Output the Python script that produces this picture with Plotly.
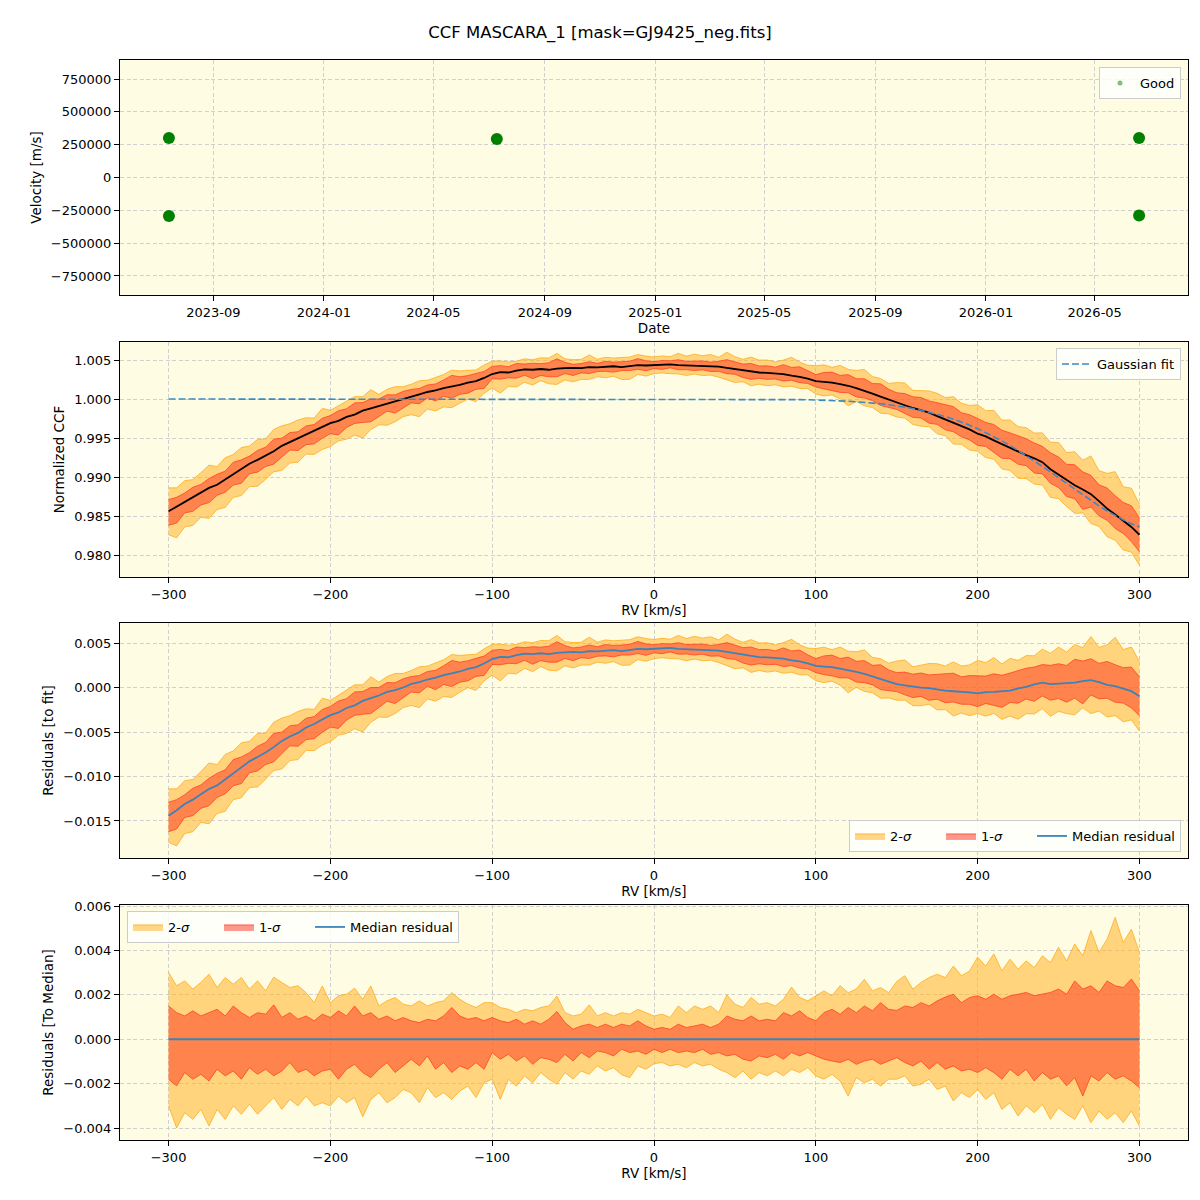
import plotly.graph_objects as go

# ---------------- data ----------------
obs_dates = ['2023-07-14', '2023-07-14', '2024-07-10', '2026-06-19', '2026-06-19']
obs_vel = [300500, -294000, 293000, 300500, -290000]

rv = list(range(-300, 305, 5))

ccf_median = [
    0.98560, 0.98620, 0.98690, 0.98740, 0.98800, 0.98860, 0.98900, 0.98970, 0.99040, 0.99100,
    0.99170, 0.99220, 0.99270, 0.99330, 0.99400, 0.99450, 0.99490, 0.99550, 0.99590, 0.99640,
    0.99690, 0.99720, 0.99770, 0.99800, 0.99850, 0.99880, 0.99910, 0.99950, 0.99970, 1.00000,
    1.00040, 1.00060, 1.00090, 1.00110, 1.00140, 1.00160, 1.00180, 1.00210, 1.00230, 1.00270,
    1.00320, 1.00345, 1.00340, 1.00365, 1.00380, 1.00375, 1.00385, 1.00375, 1.00390, 1.00395,
    1.00400, 1.00395, 1.00410, 1.00405, 1.00415, 1.00420, 1.00410, 1.00425, 1.00435, 1.00430,
    1.00435, 1.00440, 1.00445, 1.00435, 1.00430, 1.00425, 1.00420, 1.00420, 1.00415, 1.00400,
    1.00385, 1.00365, 1.00350, 1.00340, 1.00335, 1.00325, 1.00320, 1.00300, 1.00285, 1.00260,
    1.00230, 1.00220, 1.00210, 1.00190, 1.00170, 1.00140, 1.00110, 1.00070, 1.00030, 0.99990,
    0.99950, 0.99920, 0.99885, 0.99855, 0.99825, 0.99780, 0.99740, 0.99700, 0.99660, 0.99610,
    0.99555, 0.99520, 0.99470, 0.99420, 0.99370, 0.99330, 0.99280, 0.99240, 0.99190, 0.99100,
    0.99030, 0.98960, 0.98895, 0.98840, 0.98780, 0.98690, 0.98595, 0.98520, 0.98440, 0.98360,
    0.98260,
]

gauss_fit = [
    1.00000, 1.00000, 1.00000, 1.00000, 1.00000, 1.00000, 1.00000, 1.00000, 1.00000, 1.00000,
    1.00000, 1.00000, 1.00000, 1.00000, 1.00000, 1.00000, 1.00000, 1.00000, 1.00000, 1.00000,
    1.00000, 1.00000, 1.00000, 1.00000, 1.00000, 1.00000, 1.00000, 1.00000, 1.00000, 1.00000,
    1.00000, 1.00000, 1.00000, 1.00000, 1.00000, 1.00000, 1.00000, 1.00000, 1.00000, 1.00000,
    1.00000, 1.00000, 1.00000, 1.00000, 1.00000, 1.00000, 1.00000, 1.00000, 1.00000, 1.00000,
    1.00000, 1.00000, 1.00000, 1.00000, 1.00000, 1.00000, 1.00000, 1.00000, 1.00000, 1.00000,
    1.00000, 1.00000, 1.00000, 1.00000, 1.00000, 1.00000, 1.00000, 1.00000, 1.00000, 1.00000,
    1.00000, 1.00000, 1.00000, 0.99998, 0.99997, 0.99996, 0.99995, 0.99994, 0.99992, 0.99990,
    0.99988, 0.99985, 0.99981, 0.99977, 0.99972, 0.99965, 0.99958, 0.99949, 0.99939, 0.99927,
    0.99913, 0.99897, 0.99878, 0.99857, 0.99833, 0.99806, 0.99776, 0.99742, 0.99705, 0.99664,
    0.99620, 0.99571, 0.99519, 0.99463, 0.99404, 0.99341, 0.99274, 0.99206, 0.99135, 0.99062,
    0.98989, 0.98915, 0.98841, 0.98768, 0.98698, 0.98630, 0.98565, 0.98505, 0.98450, 0.98401,
    0.98359,
]

# band offsets relative to the median (as in the bottom panel)
sig2_hi = [
    0.00301, 0.00241, 0.00263, 0.00226, 0.00256, 0.00293, 0.00233, 0.00278, 0.00248, 0.00278,
    0.00226, 0.00263, 0.00218, 0.00280, 0.00256, 0.00233, 0.00241, 0.00210, 0.00165, 0.00240,
    0.00165, 0.00196, 0.00203, 0.00230, 0.00180, 0.00240, 0.00150, 0.00173, 0.00188, 0.00158,
    0.00150, 0.00173, 0.00150, 0.00165, 0.00173, 0.00210, 0.00180, 0.00158, 0.00143, 0.00165,
    0.00165, 0.00143, 0.00135, 0.00120, 0.00135, 0.00128, 0.00143, 0.00150, 0.00195, 0.00120,
    0.00105, 0.00113, 0.00155, 0.00105, 0.00120, 0.00105, 0.00120, 0.00113, 0.00135, 0.00120,
    0.00105, 0.00113, 0.00098, 0.00150, 0.00120, 0.00150, 0.00135, 0.00150, 0.00120, 0.00200,
    0.00158, 0.00143, 0.00188, 0.00158, 0.00165, 0.00150, 0.00180, 0.00235, 0.00188, 0.00173,
    0.00196, 0.00218, 0.00196, 0.00241, 0.00210, 0.00226, 0.00270, 0.00218, 0.00233, 0.00210,
    0.00260, 0.00286, 0.00226, 0.00256, 0.00278, 0.00293, 0.00278, 0.00330, 0.00286, 0.00308,
    0.00370, 0.00330, 0.00385, 0.00308, 0.00361, 0.00316, 0.00353, 0.00323, 0.00376, 0.00346,
    0.00414, 0.00353, 0.00429, 0.00376, 0.00490, 0.00391, 0.00451, 0.00549, 0.00436, 0.00496,
    0.00391,
]
sig1_hi = [
    0.00150, 0.00120, 0.00105, 0.00128, 0.00105, 0.00120, 0.00135, 0.00105, 0.00150, 0.00120,
    0.00098, 0.00120, 0.00113, 0.00155, 0.00098, 0.00120, 0.00090, 0.00105, 0.00083, 0.00113,
    0.00098, 0.00128, 0.00105, 0.00150, 0.00105, 0.00120, 0.00090, 0.00105, 0.00083, 0.00098,
    0.00083, 0.00075, 0.00090, 0.00083, 0.00105, 0.00143, 0.00105, 0.00090, 0.00098, 0.00083,
    0.00098, 0.00083, 0.00075, 0.00090, 0.00068, 0.00083, 0.00068, 0.00090, 0.00125, 0.00075,
    0.00045, 0.00060, 0.00068, 0.00053, 0.00068, 0.00053, 0.00068, 0.00060, 0.00083, 0.00060,
    0.00045, 0.00053, 0.00045, 0.00068, 0.00053, 0.00060, 0.00068, 0.00053, 0.00068, 0.00105,
    0.00090, 0.00083, 0.00105, 0.00083, 0.00090, 0.00083, 0.00120, 0.00105, 0.00128, 0.00098,
    0.00083, 0.00120, 0.00135, 0.00113, 0.00143, 0.00120, 0.00150, 0.00128, 0.00165, 0.00135,
    0.00130, 0.00150, 0.00143, 0.00165, 0.00150, 0.00173, 0.00190, 0.00203, 0.00165, 0.00188,
    0.00196, 0.00180, 0.00203, 0.00180, 0.00196, 0.00203, 0.00211, 0.00196, 0.00203, 0.00211,
    0.00226, 0.00203, 0.00263, 0.00226, 0.00241, 0.00211, 0.00263, 0.00241, 0.00233, 0.00271,
    0.00218,
]
sig1_lo = [
    -0.00180, -0.00210, -0.00150, -0.00180, -0.00158, -0.00188, -0.00135, -0.00165, -0.00143, -0.00180,
    -0.00128, -0.00158, -0.00135, -0.00165, -0.00143, -0.00105, -0.00150, -0.00135, -0.00165, -0.00143,
    -0.00135, -0.00180, -0.00135, -0.00113, -0.00150, -0.00173, -0.00135, -0.00105, -0.00150, -0.00120,
    -0.00090, -0.00120, -0.00075, -0.00135, -0.00105, -0.00150, -0.00120, -0.00135, -0.00105, -0.00135,
    -0.00060, -0.00090, -0.00068, -0.00098, -0.00075, -0.00113, -0.00083, -0.00090, -0.00105, -0.00068,
    -0.00098, -0.00060, -0.00083, -0.00053, -0.00060, -0.00075, -0.00045, -0.00060, -0.00053, -0.00068,
    -0.00045, -0.00060, -0.00045, -0.00060, -0.00053, -0.00060, -0.00045, -0.00068, -0.00060, -0.00075,
    -0.00068, -0.00090, -0.00098, -0.00075, -0.00083, -0.00068, -0.00090, -0.00060, -0.00075, -0.00060,
    -0.00075, -0.00090, -0.00098, -0.00105, -0.00090, -0.00113, -0.00098, -0.00090, -0.00113, -0.00098,
    -0.00083, -0.00105, -0.00120, -0.00098, -0.00135, -0.00105, -0.00135, -0.00120, -0.00143, -0.00135,
    -0.00150, -0.00128, -0.00150, -0.00180, -0.00135, -0.00165, -0.00135, -0.00188, -0.00150, -0.00180,
    -0.00165, -0.00210, -0.00173, -0.00256, -0.00165, -0.00188, -0.00150, -0.00180, -0.00165, -0.00188,
    -0.00218,
]
sig2_lo = [
    -0.00300, -0.00400, -0.00331, -0.00361, -0.00316, -0.00391, -0.00316, -0.00361, -0.00300, -0.00338,
    -0.00293, -0.00338, -0.00300, -0.00263, -0.00316, -0.00271, -0.00300, -0.00256, -0.00300, -0.00286,
    -0.00300, -0.00256, -0.00286, -0.00263, -0.00350, -0.00271, -0.00241, -0.00286, -0.00263, -0.00226,
    -0.00241, -0.00286, -0.00218, -0.00263, -0.00241, -0.00271, -0.00233, -0.00211, -0.00263, -0.00196,
    -0.00180, -0.00271, -0.00180, -0.00211, -0.00165, -0.00196, -0.00150, -0.00180, -0.00203, -0.00150,
    -0.00180, -0.00143, -0.00158, -0.00120, -0.00143, -0.00128, -0.00160, -0.00173, -0.00120, -0.00135,
    -0.00110, -0.00105, -0.00120, -0.00113, -0.00128, -0.00105, -0.00120, -0.00113, -0.00135, -0.00150,
    -0.00173, -0.00143, -0.00180, -0.00150, -0.00165, -0.00143, -0.00165, -0.00135, -0.00150, -0.00128,
    -0.00165, -0.00180, -0.00158, -0.00188, -0.00256, -0.00173, -0.00196, -0.00180, -0.00211, -0.00180,
    -0.00180, -0.00165, -0.00211, -0.00203, -0.00180, -0.00226, -0.00211, -0.00278, -0.00241, -0.00263,
    -0.00226, -0.00271, -0.00241, -0.00316, -0.00286, -0.00346, -0.00300, -0.00331, -0.00293, -0.00361,
    -0.00308, -0.00338, -0.00361, -0.00300, -0.00376, -0.00323, -0.00361, -0.00331, -0.00376, -0.00323,
    -0.00391,
]

date_ticks = ['2023-09-01', '2024-01-01', '2024-05-01', '2024-09-01', '2025-01-01',
              '2025-05-01', '2025-09-01', '2026-01-01', '2026-05-01']
date_labels = ['2023-09', '2024-01', '2024-05', '2024-09', '2025-01',
               '2025-05', '2025-09', '2026-01', '2026-05']
vel_ticks = [-750000, -500000, -250000, 0, 250000, 500000, 750000]
rv_ticks = [-300, -200, -100, 0, 100, 200, 300]
ccf_ticks = [0.980, 0.985, 0.990, 0.995, 1.000, 1.005]
res_ticks = [-0.015, -0.010, -0.005, 0.000, 0.005]
med_ticks = [-0.004, -0.002, 0.000, 0.002, 0.004, 0.006]

# ---------------- styling ----------------
FONT = 'DejaVu Sans'
BG = '#FEFCE3'
FILL2 = 'rgba(255,178,40,0.55)'
LINE2 = 'rgba(255,172,30,0.8)'
FILL1 = 'rgba(255,50,30,0.5)'
LINE1 = 'rgba(255,60,30,0.75)'
BLUE = '#3a84b9'
PAD = '\u00a0' * 6


def minus(v, fmt):
    s = format(v, fmt)
    return s.replace('-', '\u2212')


residual = [c - f for c, f in zip(ccf_median, gauss_fit)]
zero_line = [c - c for c in ccf_median]

fig = go.Figure()


def add_band(xa, ya, center, lo, hi, fill, line, name, legend, show):
    fig.add_trace(go.Scatter(x=rv, y=[c + v for c, v in zip(center, lo)], mode='lines',
                             line=dict(color=line, width=1), xaxis=xa, yaxis=ya,
                             showlegend=False, hoverinfo='skip'))
    fig.add_trace(go.Scatter(x=rv, y=[c + v for c, v in zip(center, hi)], mode='lines',
                             fill='tonexty', fillcolor=fill, line=dict(color=line, width=1),
                             xaxis=xa, yaxis=ya, name=name, legend=legend,
                             showlegend=show, hoverinfo='skip'))


# Panel 1
fig.add_trace(go.Scatter(x=obs_dates, y=obs_vel, mode='markers',
                         marker=dict(color='green', size=12), xaxis='x', yaxis='y',
                         showlegend=False))
fig.add_trace(go.Scatter(x=[None], y=[None], mode='markers', name='Good',
                         marker=dict(color='rgba(0,128,0,0.5)', size=5),
                         xaxis='x', yaxis='y', legend='legend'))

# Panel 2
add_band('x2', 'y2', ccf_median, sig2_lo, sig2_hi, FILL2, LINE2, '2-σ', 'legend2', False)
add_band('x2', 'y2', ccf_median, sig1_lo, sig1_hi, FILL1, LINE1, '1-σ', 'legend2', False)
fig.add_trace(go.Scatter(x=rv, y=ccf_median, mode='lines', line=dict(color='black', width=1.8),
                         xaxis='x2', yaxis='y2', showlegend=False))
fig.add_trace(go.Scatter(x=rv, y=gauss_fit, mode='lines', name='Gaussian fit',
                         line=dict(color='#3d8ac2', width=1.6, dash='7px,3px'),
                         xaxis='x2', yaxis='y2', legend='legend2'))

# Panel 3
add_band('x3', 'y3', residual, sig2_lo, sig2_hi, FILL2, LINE2, '2-<i>σ</i>' + PAD, 'legend3', True)
add_band('x3', 'y3', residual, sig1_lo, sig1_hi, FILL1, LINE1, '1-<i>σ</i>' + PAD, 'legend3', True)
fig.add_trace(go.Scatter(x=rv, y=residual, mode='lines', name='Median residual',
                         line=dict(color=BLUE, width=1.8), xaxis='x3', yaxis='y3',
                         legend='legend3'))

# Panel 4
add_band('x4', 'y4', zero_line, sig2_lo, sig2_hi, FILL2, LINE2, '2-<i>σ</i>' + PAD, 'legend4', True)
add_band('x4', 'y4', zero_line, sig1_lo, sig1_hi, FILL1, LINE1, '1-<i>σ</i>' + PAD, 'legend4', True)
fig.add_trace(go.Scatter(x=rv, y=zero_line, mode='lines', name='Median residual',
                         line=dict(color=BLUE, width=1.8), xaxis='x4', yaxis='y4',
                         legend='legend4'))

# ---------------- layout ----------------
H = 1200.0


def ydom(top, bottom):
    return [1 - bottom / H, 1 - top / H]


common = dict(showline=True, linecolor='black', linewidth=1, mirror=True,
              ticks='outside', ticklen=5, tickcolor='black', tickwidth=1,
              showgrid=True, gridcolor='#d0d0d0', griddash='4px,2.5px', gridwidth=1,
              zeroline=False, automargin=False,
              tickfont=dict(family=FONT, size=13, color='black'),
              title_font=dict(family=FONT, size=13.5, color='black'))

xdom = [120 / 1200, 1188 / 1200]
rv_labels = [minus(v, 'd') for v in rv_ticks]

legend_common = dict(bgcolor='rgba(255,255,255,0.8)', bordercolor='#cccccc', borderwidth=1,
                     traceorder='normal',
                     font=dict(family=FONT, size=13, color='black'))

fig.update_layout(
    width=1200, height=1200,
    margin=dict(l=0, r=0, t=0, b=0, autoexpand=False),
    paper_bgcolor='white', plot_bgcolor=BG,
    font=dict(family=FONT, size=13, color='black'),
    title=dict(text='CCF MASCARA_1 [mask=GJ9425_neg.fits]', x=0.5, xanchor='center',
               y=1 - 32 / H, yanchor='middle', automargin=False,
               font=dict(family=FONT, size=16.5, color='black')),
    xaxis=dict(domain=xdom, anchor='y', type='date', range=['2023-05-21', '2026-08-12'],
               tickvals=date_ticks, ticktext=date_labels,
               title=dict(text='Date', standoff=4), **common),
    yaxis=dict(domain=ydom(60, 295), anchor='x', range=[-895000, 895000],
               tickvals=vel_ticks, ticktext=[minus(v, 'd') for v in vel_ticks],
               title=dict(text='Velocity [m/s]', standoff=6), **common),
    xaxis2=dict(domain=xdom, anchor='y2', range=[-330, 330], tickvals=rv_ticks,
                ticktext=rv_labels, title=dict(text='RV [km/s]', standoff=4), **common),
    yaxis2=dict(domain=ydom(342, 577), anchor='x2', range=[0.97718, 1.00731],
                tickvals=ccf_ticks, ticktext=[format(v, '.3f') for v in ccf_ticks],
                title=dict(text='Normalized CCF', standoff=6), **common),
    xaxis3=dict(domain=xdom, anchor='y3', range=[-330, 330], tickvals=rv_ticks,
                ticktext=rv_labels, title=dict(text='RV [km/s]', standoff=4), **common),
    yaxis3=dict(domain=ydom(623, 858), anchor='x3', range=[-0.01916, 0.00725],
                tickvals=res_ticks, ticktext=[minus(v, '.3f') for v in res_ticks],
                title=dict(text='Residuals [to fit]', standoff=6), **common),
    xaxis4=dict(domain=xdom, anchor='y4', range=[-330, 330], tickvals=rv_ticks,
                ticktext=rv_labels, title=dict(text='RV [km/s]', standoff=4), **common),
    yaxis4=dict(domain=ydom(905, 1140), anchor='x4', range=[-0.00454, 0.00605],
                tickvals=med_ticks, ticktext=[minus(v, '.3f') for v in med_ticks],
                title=dict(text='Residuals [To Median]', standoff=6), **common),
    legend=dict(x=1181 / 1200, xanchor='right', y=1 - 67 / H, yanchor='top', **legend_common),
    legend2=dict(x=1181 / 1200, xanchor='right', y=1 - 348 / H, yanchor='top', **legend_common),
    legend3=dict(x=1181 / 1200, xanchor='right', y=1 - 852 / H, yanchor='bottom',
                 orientation='h', **legend_common),
    legend4=dict(x=127 / 1200, xanchor='left', y=1 - 911 / H, yanchor='top',
                 orientation='h', **legend_common),
)

fig.write_html('out.html')
